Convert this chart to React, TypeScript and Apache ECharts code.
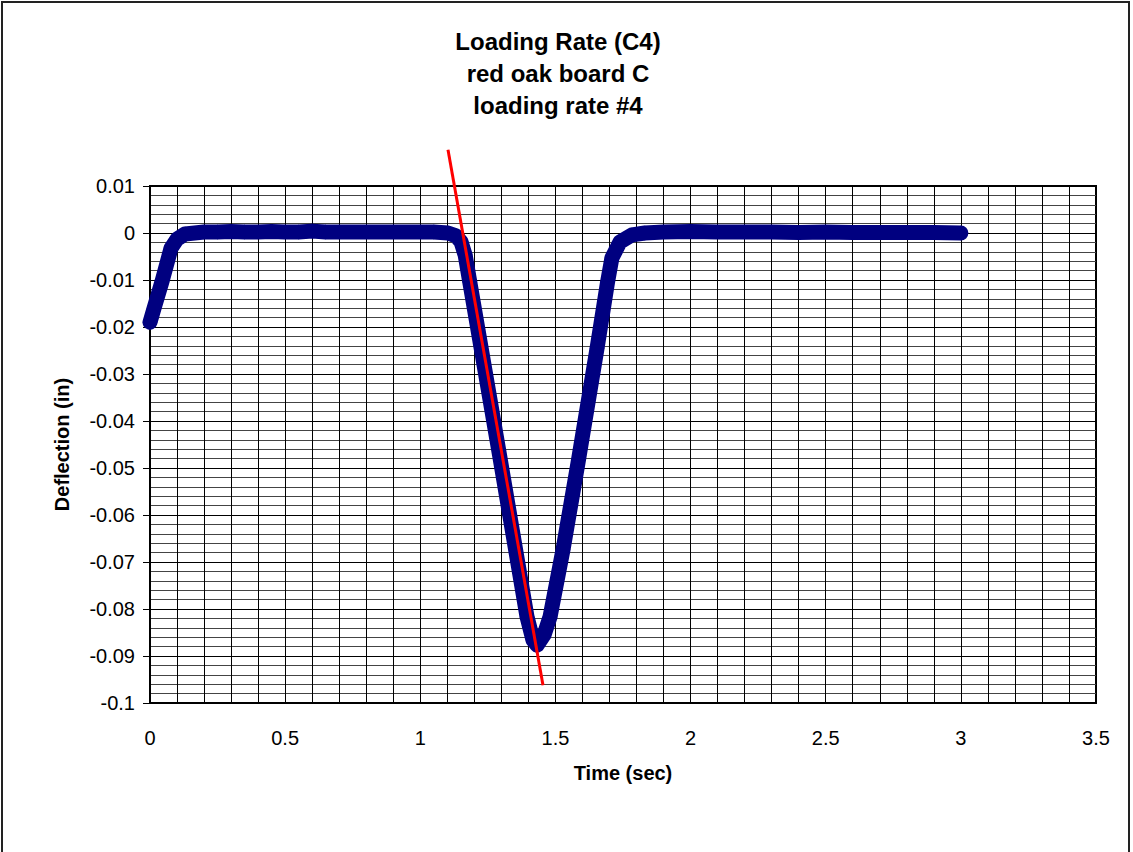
import React, { useEffect, useRef } from "react";
import * as echarts from "echarts";

const titleLines = ["Loading Rate (C4)", "red oak board C", "loading rate #4"];
const xAxisName = "Time (sec)";
const yAxisName = "Deflection (in)";

const timeVals = [
  0, 0.015, 0.044, 0.078, 0.1, 0.13, 0.2, 0.25, 0.3, 0.35, 0.4, 0.45, 0.5, 0.55, 0.6, 0.65,
  0.7, 0.8, 0.9, 1.0, 1.05, 1.1025, 1.132, 1.151, 1.166, 1.183, 1.293, 1.395, 1.417, 1.432,
  1.458, 1.48, 1.528, 1.582, 1.654, 1.693, 1.709, 1.739, 1.783, 1.831, 1.9, 2.0, 2.1, 2.2,
  2.3, 2.4, 2.5, 2.6, 2.7, 2.8, 2.9, 3.0,
];
const deflVals = [
  -0.019, -0.016, -0.0104, -0.0032, -0.0013, -0.0002, 0.0002, 0.0002, 0.0003, 0.0002, 0.0002,
  0.0003, 0.0002, 0.0002, 0.0004, 0.0002, 0.0002, 0.0002, 0.0002, 0.0002, 0.0002, 0.0,
  -0.0006, -0.0019, -0.0047, -0.0104, -0.0472, -0.0817, -0.0866, -0.0877, -0.0855, -0.0817,
  -0.0674, -0.0494, -0.0245, -0.0104, -0.0053, -0.0019, -0.0004, 0.0, 0.0002, 0.0003, 0.0002,
  0.0002, 0.0002, 0.0001, 0.0002, 0.0001, 0.0001, 0.0001, 0.0001, 0.0,
];

// red fitted slope line
const fitTime = [1.1025, 1.454];
const fitDefl = [0.0177, -0.0962];

const FONT = "'Liberation Sans', Arial, sans-serif";

export default function App() {
  const ref = useRef<HTMLDivElement>(null);
  useEffect(() => {
    if (!ref.current) return;
    const chart = echarts.init(ref.current, null, { renderer: "svg" });
    const data = timeVals.map((t, i) => [t, deflVals[i]]);
    const fit = fitTime.map((t, i) => [t, fitDefl[i]]);
    chart.setOption({
      animation: false,
      backgroundColor: "#fff",
      textStyle: { fontFamily: FONT },
      title: {
        text: titleLines.join("\n"),
        left: 553,
        top: 20,
        textAlign: "center",
        textStyle: { fontFamily: FONT, fontSize: 24, fontWeight: "bold", color: "#000", lineHeight: 32 },
      },
      graphic: [
        {
          type: "rect",
          shape: { x: 2, y: 2, width: 1127, height: 900 },
          style: { fill: "none", stroke: "#222", lineWidth: 2 },
          silent: true,
        },
      ],
      grid: {
        left: 150,
        top: 186,
        width: 946,
        height: 517,
        show: true,
        borderColor: "#000",
        borderWidth: 2,
        backgroundColor: "transparent",
      },
      xAxis: {
        type: "value",
        min: 0,
        max: 3.5,
        interval: 0.5,
        name: xAxisName,
        nameLocation: "middle",
        nameGap: 60,
        nameTextStyle: { fontFamily: FONT, fontSize: 20, fontWeight: "bold", color: "#000" },
        axisLine: { show: true, onZero: false, lineStyle: { color: "#000", width: 2 } },
        axisTick: { show: false },
        axisLabel: { fontFamily: FONT, fontSize: 20, color: "#000", margin: 25 },
        splitLine: { show: true, lineStyle: { color: "#000", width: 1 } },
        minorTick: { show: false, splitNumber: 5 },
        minorSplitLine: { show: true, lineStyle: { color: "#000", width: 1 } },
      },
      yAxis: {
        type: "value",
        min: -0.1,
        max: 0.01,
        interval: 0.01,
        name: yAxisName,
        nameLocation: "middle",
        nameGap: 78,
        nameTextStyle: { fontFamily: FONT, fontSize: 20, fontWeight: "bold", color: "#000" },
        axisLine: { show: true, onZero: false, lineStyle: { color: "#000", width: 2 } },
        axisTick: { show: true, length: 7, lineStyle: { color: "#000", width: 1 } },
        axisLabel: { fontFamily: FONT, fontSize: 20, color: "#000", margin: 15 },
        splitLine: { show: true, lineStyle: { color: "#000", width: 1 } },
        minorTick: { show: false, splitNumber: 5 },
        minorSplitLine: { show: true, lineStyle: { color: "#444", width: 1 } },
      },
      series: [
        {
          type: "line",
          data,
          symbol: "diamond",
          symbolSize: 15,
          showSymbol: true,
          itemStyle: { color: "#000080" },
          lineStyle: { color: "#000080", width: 15, cap: "round", join: "round" },
          z: 3,
        },
        {
          type: "line",
          data: fit,
          clip: false,
          symbol: "none",
          lineStyle: { color: "#ff0000", width: 3 },
          z: 4,
        },
      ],
    });
    return () => chart.dispose();
  }, []);
  return (
    <div
      ref={ref}
      style={{ position: "absolute", left: 0, top: 0, width: 1133, height: 852 }}
    />
  );
}
